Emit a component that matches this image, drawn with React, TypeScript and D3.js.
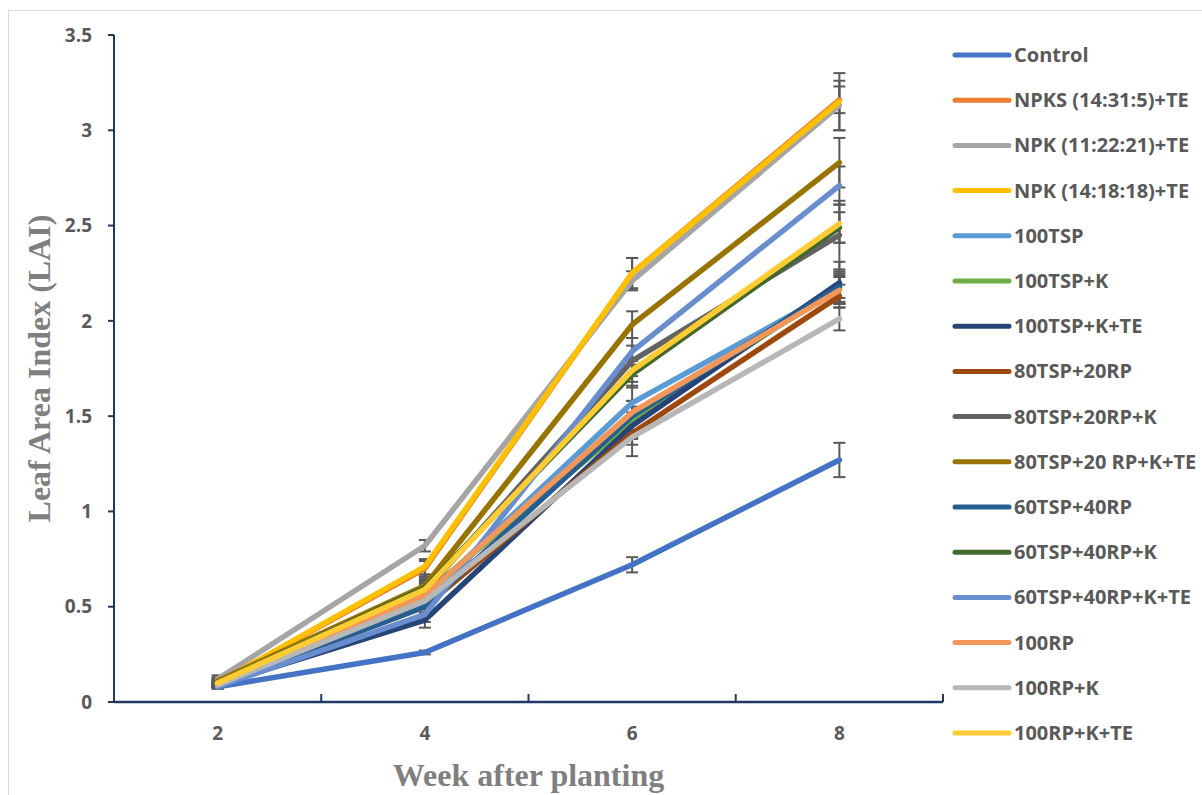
import { useEffect } from 'react'
import * as d3 from 'd3'

const weeks = ['2', '4', '6', '8']
const yTicks = [0, 0.5, 1, 1.5, 2, 2.5, 3, 3.5]

const seriesNames = [
  'Control',
  'NPKS (14:31:5)+TE',
  'NPK (11:22:21)+TE',
  'NPK (14:18:18)+TE',
  '100TSP',
  '100TSP+K',
  '100TSP+K+TE',
  '80TSP+20RP',
  '80TSP+20RP+K',
  '80TSP+20 RP+K+TE',
  '60TSP+40RP',
  '60TSP+40RP+K',
  '60TSP+40RP+K+TE',
  '100RP',
  '100RP+K',
  '100RP+K+TE',
]

const seriesColors = [
  '#4472C4', '#ED7D31', '#A5A5A5', '#FFC000', '#5B9BD5', '#70AD47', '#264478', '#9E480E',
  '#636363', '#997300', '#255E91', '#43682B', '#698ED0', '#F1975A', '#B7B7B7', '#FFCD33',
]

// LAI at weeks 2, 4, 6, 8
const seriesValues = [
  [0.08, 0.26, 0.72, 1.27],
  [0.10, 0.70, 2.25, 3.16],
  [0.12, 0.82, 2.21, 3.13],
  [0.10, 0.71, 2.25, 3.15],
  [0.09, 0.55, 1.57, 2.17],
  [0.10, 0.57, 1.47, 2.18],
  [0.09, 0.43, 1.45, 2.20],
  [0.09, 0.50, 1.41, 2.13],
  [0.10, 0.58, 1.79, 2.45],
  [0.11, 0.61, 1.98, 2.83],
  [0.09, 0.50, 1.50, 2.18],
  [0.10, 0.60, 1.72, 2.49],
  [0.08, 0.46, 1.84, 2.71],
  [0.09, 0.56, 1.52, 2.16],
  [0.09, 0.53, 1.39, 2.01],
  [0.10, 0.59, 1.74, 2.51],
]

// +/- error
const seriesErrors = [
  [0.01, 0.01, 0.04, 0.09],
  [0.02, 0.04, 0.08, 0.07],
  [0.02, 0.03, 0.05, 0.13],
  [0.02, 0.04, 0.08, 0.15],
  [0.01, 0.04, 0.09, 0.08],
  [0.01, 0.04, 0.08, 0.06],
  [0.01, 0.04, 0.07, 0.11],
  [0.01, 0.04, 0.06, 0.06],
  [0.01, 0.04, 0.08, 0.18],
  [0.02, 0.04, 0.07, 0.13],
  [0.01, 0.03, 0.08, 0.08],
  [0.01, 0.04, 0.07, 0.08],
  [0.01, 0.04, 0.07, 0.10],
  [0.01, 0.04, 0.06, 0.07],
  [0.01, 0.04, 0.10, 0.06],
  [0.02, 0.04, 0.06, 0.10],
]

const W = 1202
const H = 795
const plot = { left: 114, right: 943, top: 35, bottom: 702 }
const axisColor = '#1F3864'
const textColor = '#595959'
const labelFont = '"Open Sans", "Liberation Sans", sans-serif'
const titleFont = '"Liberation Serif", "Times New Roman", serif'

export default function App() {
  useEffect(() => {
    document.body.style.margin = '0'
  }, [])

  const x = d3.scaleBand().domain(weeks).range([plot.left, plot.right]).paddingInner(0).paddingOuter(0)
  const y = d3.scaleLinear().domain([0, 3.5]).range([plot.bottom, plot.top])
  const cx = (w: string) => (x(w) ?? 0) + x.bandwidth() / 2

  const line = d3.line<number>()
    .x((_, i) => cx(weeks[i]))
    .y(d => y(d))

  const boundaries = weeks.map(w => (x(w) ?? 0) + x.bandwidth())

  const legendX = 955
  const legendY = d3.scalePoint<number>().domain(d3.range(seriesNames.length)).range([55, 733])

  return (
    <svg width={W} height={H} style={{ display: 'block', background: '#fff' }}>
      <rect x={8.5} y={10.5} width={1200} height={800} fill="none" stroke="#d9d9d9" />

      {/* y axis */}
      <line x1={plot.left} x2={plot.left} y1={y(3.5)} y2={plot.bottom} stroke={axisColor} strokeWidth={2} />
      {yTicks.map(t => (
        <g key={t}>
          <line x1={plot.left - 6} x2={plot.left} y1={y(t)} y2={y(t)} stroke={axisColor} strokeWidth={2} />
          <text x={92} y={y(t)} dy="0.35em" textAnchor="end" fontFamily={labelFont} fontWeight="bold" fontSize={19} fill={textColor}>
            {t}
          </text>
        </g>
      ))}

      {/* x axis */}
      <line x1={plot.left} x2={plot.right} y1={plot.bottom} y2={plot.bottom} stroke={axisColor} strokeWidth={2.5} />
      {boundaries.map((b, i) => (
        <line key={i} x1={b} x2={b} y1={plot.bottom - 8} y2={plot.bottom} stroke={axisColor} strokeWidth={2} />
      ))}
      {weeks.map(w => (
        <text key={w} x={cx(w)} y={733} dy="0.35em" textAnchor="middle" fontFamily={labelFont} fontWeight="bold" fontSize={19} fill={textColor}>
          {w}
        </text>
      ))}

      {/* error bars */}
      {seriesValues.map((vals, s) => (
        <g key={`e${s}`} stroke="#595959" strokeWidth={2}>
          {vals.map((v, i) => {
            const px = cx(weeks[i])
            const e = seriesErrors[s][i]
            return (
              <g key={i}>
                <line x1={px} x2={px} y1={y(v + e)} y2={y(v - e)} />
                <line x1={px - 6} x2={px + 6} y1={y(v + e)} y2={y(v + e)} />
                <line x1={px - 6} x2={px + 6} y1={y(v - e)} y2={y(v - e)} />
              </g>
            )
          })}
        </g>
      ))}

      {/* series lines */}
      {seriesValues.map((vals, s) => (
        <path
          key={`l${s}`}
          d={line(vals) ?? ''}
          fill="none"
          stroke={seriesColors[s]}
          strokeWidth={5.5}
          strokeLinejoin="round"
          strokeLinecap="round"
        />
      ))}

      {/* legend */}
      {seriesNames.map((name, s) => {
        const ly = legendY(s) ?? 0
        return (
          <g key={`g${s}`}>
            <line x1={legendX} x2={legendX + 54} y1={ly} y2={ly} stroke={seriesColors[s]} strokeWidth={5} strokeLinecap="round" />
            <text x={legendX + 59} y={ly} dy="0.35em" fontFamily={labelFont} fontWeight="bold" fontSize={20} fill={textColor}>
              {name}
            </text>
          </g>
        )
      })}

      {/* axis titles */}
      <text
        transform={`translate(50,${(plot.top + plot.bottom) / 2}) rotate(-90)`}
        textAnchor="middle"
        fontFamily={titleFont}
        fontWeight="bold"
        fontSize={32}
        fill="#7f7f7f"
      >
        Leaf Area Index (LAI)
      </text>
      <text
        x={(plot.left + plot.right) / 2}
        y={786}
        textAnchor="middle"
        fontFamily={titleFont}
        fontWeight="bold"
        fontSize={32}
        fill="#7f7f7f"
      >
        Week after planting
      </text>
    </svg>
  )
}
